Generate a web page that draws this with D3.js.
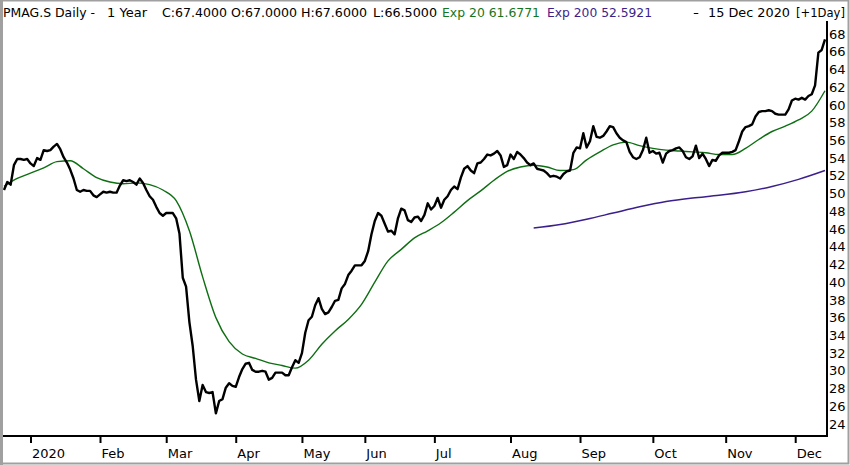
<!DOCTYPE html>
<html>
<head>
<meta charset="utf-8">
<script src="https://cdn.jsdelivr.net/npm/d3@7"></script>
<style>
  html, body { margin: 0; padding: 0; background: #fff; }
  svg { display: block; font-family: "DejaVu Sans", Verdana, sans-serif; }
</style>
</head>
<body>
<svg id="chart" width="850" height="465"></svg>
<script>
// daily closes, one per trading day (index 0 = mid Dec 2019, 248 = 15 Dec 2020)
const closes = [
  50.4, 51.3, 51.0, 53.2, 53.9, 53.9, 53.8, 53.9, 53.4, 53.1,
  54.0, 53.8, 54.9, 54.8, 54.9, 55.3, 55.6, 55.0, 54.1, 53.5,
  52.7, 51.7, 50.4, 50.2, 50.4, 50.3, 50.3, 49.8, 49.6, 49.9,
  50.2, 50.1, 50.2, 50.1, 50.1, 50.9, 51.5, 51.4, 51.5, 51.3,
  51.0, 51.7, 51.2, 50.4, 49.7, 49.3, 48.5, 47.8, 47.5, 47.8,
  47.8, 47.8, 47.2, 45.5, 40.5, 39.5, 35.5, 32.8, 29.0, 26.6,
  28.4, 27.6, 27.5, 27.6, 25.2, 26.6, 26.8, 28.1, 28.6, 28.3,
  28.2, 29.3, 30.2, 30.8, 30.9, 30.1, 29.9, 29.9, 30.0, 29.9,
  29.0, 29.2, 29.8, 29.8, 29.8, 29.5, 29.5, 30.4, 31.2, 30.9,
  32.0, 34.3, 35.7, 36.1, 37.4, 38.2, 37.0, 36.4, 36.6, 37.2,
  37.9, 38.0, 39.3, 39.8, 40.8, 41.3, 41.9, 41.9, 41.9, 42.4,
  43.5, 45.4, 46.9, 47.8, 47.5, 46.6, 45.7, 45.8, 45.4, 47.2,
  48.3, 48.1, 47.0, 46.8, 47.3, 47.4, 46.9, 47.6, 48.9, 48.2,
  48.6, 49.5, 48.4, 49.3, 49.7, 50.4, 50.8, 50.5, 51.8, 52.8,
  53.1, 52.6, 52.3, 53.4, 53.5, 53.9, 54.4, 54.3, 54.5, 54.8,
  54.3, 53.0, 53.2, 54.4, 53.9, 54.7, 54.4, 54.0, 53.5, 53.2,
  53.4, 52.8, 52.7, 52.6, 52.3, 51.9, 52.0, 51.9, 51.7, 52.2,
  52.5, 52.6, 54.6, 55.2, 55.1, 56.8, 55.2, 55.9, 57.6, 56.4,
  56.3, 56.5, 57.0, 57.6, 57.5, 56.8, 56.3, 56.0, 55.8, 54.7,
  54.1, 53.9, 54.1, 54.9, 56.3, 54.6, 54.8, 54.5, 54.6, 53.5,
  54.5, 54.8, 54.9, 55.1, 55.2, 54.8, 54.1, 53.9, 54.2, 55.4,
  54.0, 54.5, 53.9, 53.1, 53.8, 53.7, 54.3, 54.6, 54.6, 54.6,
  54.7, 54.9, 55.9, 57.0, 57.5, 57.6, 57.8, 58.7, 59.2, 59.3,
  59.3, 59.4, 59.3, 59.0, 58.9, 58.9, 58.9, 59.5, 60.5, 60.7,
  60.6, 60.8, 60.6, 61.0, 61.2, 62.2, 65.9, 66.2, 67.4
];

// Exp 20, read every 4th trading day
const ema20Idx = [
  0, 4, 8, 12, 16, 20, 24, 28, 32, 36, 40, 44, 48, 52, 56, 60,
  64, 68, 72, 76, 80, 84, 88, 92, 96, 100, 104, 108, 112, 116, 120, 124,
  128, 132, 136, 140, 144, 148, 152, 156, 160, 164, 168, 172, 176, 180, 184, 188,
  192, 196, 200, 204, 208, 212, 216, 220, 224, 228, 232, 236, 240, 244, 248
];
const ema20 = [
  50.8, 51.7, 52.3, 52.9, 53.6, 53.7, 52.8, 51.8, 51.3, 51.1, 51.2, 51.0, 50.4, 49.2, 45.8, 40.6,
  36.0, 33.3, 31.9, 31.4, 30.9, 30.6, 30.3, 31.2, 33.0, 34.5, 35.8, 37.5, 40.0, 42.4, 43.7, 45.0,
  45.8, 46.7, 47.9, 49.2, 50.3, 51.5, 52.5, 53.0, 53.2, 53.0, 52.6, 52.7, 53.8, 54.7, 55.5, 55.8,
  55.4, 55.1, 54.9, 54.8, 54.7, 54.6, 54.4, 54.4, 55.1, 56.1, 57.0, 57.6, 58.3, 59.3, 61.6
];

// Exp 200, only drawn from August on
const ema200Idx = [160, 168, 176, 184, 192, 200, 208, 216, 224, 232, 240, 248];
const ema200 = [46.1, 46.5, 47.1, 47.8, 48.5, 49.1, 49.5, 49.8, 50.2, 50.8, 51.6, 52.6];

// month ticks (trading day index of first session)
const monthIdx = [8, 29, 49, 70, 90, 109, 130, 153, 174, 196, 218, 239];
const monthLabels = ["2020", "Feb", "Mar", "Apr", "May", "Jun", "Jul", "Aug", "Sep", "Oct", "Nov", "Dec"];

const priceTicks = d3.range(24, 69, 2);

// header pieces
const header = [
  { text: "PMAG.S Daily -", x: 3, w: 92, color: "#000" },
  { text: "1 Year", x: 107, w: 40, color: "#000" },
  { text: "C:67.4000", x: 162, w: 65, color: "#000" },
  { text: "O:67.0000", x: 231, w: 66, color: "#000" },
  { text: "H:67.6000", x: 301, w: 66, color: "#000" },
  { text: "L:66.5000", x: 373, w: 64, color: "#000" },
  { text: "Exp 20 61.6771", x: 442, w: 98, color: "#17751a" },
  { text: "Exp 200 52.5921", x: 547, w: 105, color: "#3b1f8c" },
  { text: "-", x: 693, w: 6, color: "#000" },
  { text: "15 Dec 2020", x: 708, w: 82, color: "#000" },
  { text: "[+1Day]", x: 796, w: 49, color: "#000" }
];

const svg = d3.select("#chart");
const W = 850, H = 465;

const plotLeft = 3, plotRight = 827, plotBottom = 436, plotTop = 21;

const x = d3.scaleLinear().domain([0, closes.length - 1]).range([4, 825]);
const y = d3.scaleLinear().domain([24, 68]).range([424, 34]);

// outer grey frame
svg.append("rect")
  .attr("x", 1).attr("y", 0.5).attr("width", W - 2.5).attr("height", H - 2)
  .attr("fill", "none").attr("stroke", "#a0a0a0").attr("stroke-width", 2);
svg.append("line")
  .attr("x1", 1.5).attr("x2", 1.5).attr("y1", 0).attr("y2", H)
  .attr("stroke", "#a0a0a0").attr("stroke-width", 3);

// header
svg.append("g").selectAll("text")
  .data(header)
  .join("text")
  .attr("x", d => d.x).attr("y", 17)
  .attr("textLength", d => d.w).attr("lengthAdjust", "spacingAndGlyphs")
  .attr("fill", d => d.color)
  .style("font-size", "13px")
  .text(d => d.text);

// lines
const line = d3.line().x(d => x(d[0])).y(d => y(d[1]));

svg.append("path")
  .datum(ema200Idx.map((d, i) => [d, ema200[i]]))
  .attr("fill", "none").attr("stroke", "#3b1f8c").attr("stroke-width", 1.5)
  .attr("d", line.curve(d3.curveMonotoneX));

svg.append("path")
  .datum(ema20Idx.map((d, i) => [d, ema20[i]]))
  .attr("fill", "none").attr("stroke", "#0e6e12").attr("stroke-width", 1.4)
  .attr("d", line.curve(d3.curveMonotoneX));

svg.append("path")
  .datum(closes.map((v, i) => [i, v]))
  .attr("fill", "none").attr("stroke", "#000").attr("stroke-width", 2.4)
  .attr("stroke-linejoin", "round")
  .attr("d", line.curve(d3.curveLinear));

// axes
const xAxis = d3.axisBottom(x)
  .tickValues(monthIdx)
  .tickFormat((d, i) => monthLabels[i])
  .tickSize(7)
  .tickPadding(6);

const xAxisG = svg.append("g")
  .attr("transform", `translate(0,${plotBottom})`)
  .call(xAxis);
xAxisG.select(".domain").remove();
xAxisG.selectAll(".tick line").attr("stroke", "#000").attr("stroke-width", 2);
xAxisG.selectAll(".tick text")
  .attr("text-anchor", "start").attr("dx", 1)
  .attr("fill", "#000")
  .style("font-family", "'DejaVu Sans', Verdana, sans-serif")
  .style("font-size", "13px");

const yAxis = d3.axisRight(y)
  .tickValues(priceTicks)
  .tickSize(0)
  .tickPadding(2);

const yAxisG = svg.append("g")
  .attr("transform", `translate(${plotRight},0)`)
  .call(yAxis);
yAxisG.select(".domain").remove();
yAxisG.selectAll(".tick text")
  .attr("fill", "#000")
  .style("font-family", "'DejaVu Sans', Verdana, sans-serif")
  .style("font-size", "13px");

// frame lines of the plot
svg.append("line")
  .attr("x1", plotLeft).attr("x2", plotRight + 1)
  .attr("y1", plotBottom).attr("y2", plotBottom)
  .attr("stroke", "#000").attr("stroke-width", 2);
svg.append("line")
  .attr("x1", plotRight).attr("x2", plotRight)
  .attr("y1", plotTop).attr("y2", plotBottom + 1)
  .attr("stroke", "#000").attr("stroke-width", 2);
</script>
</body>
</html>
